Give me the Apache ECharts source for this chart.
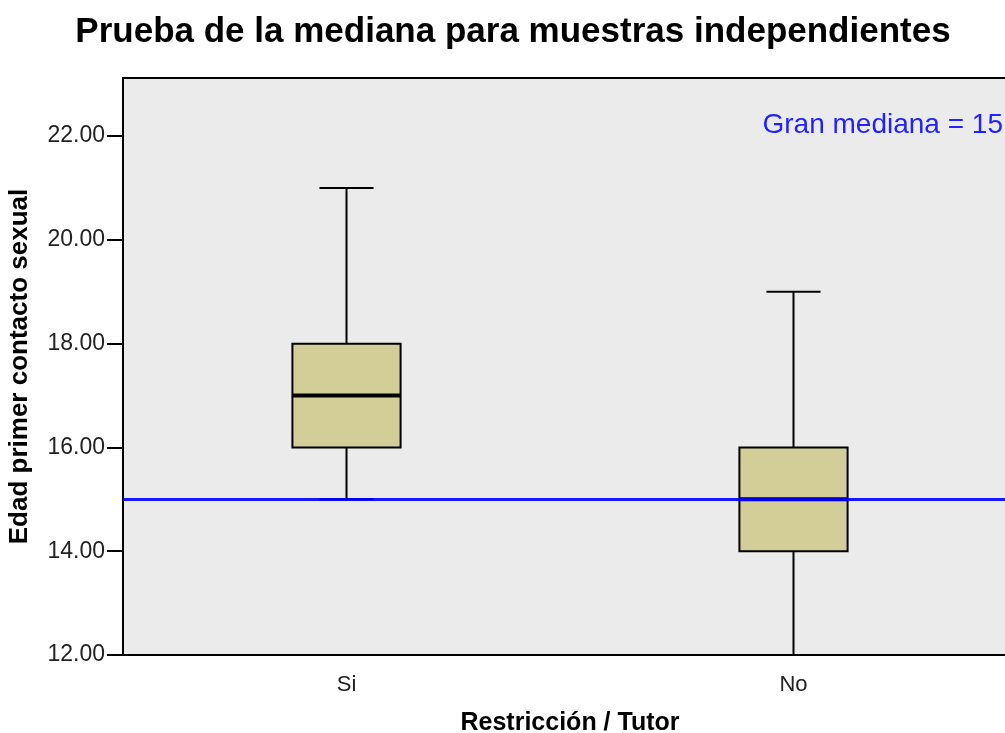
<!DOCTYPE html>
<html>
<head>
<meta charset="utf-8">
<script src="https://cdn.jsdelivr.net/npm/echarts@6/dist/echarts.min.js"></script>
<style>
  html, body { margin: 0; padding: 0; background: #fff; }
  #chart { width: 1005px; height: 733px; }
</style>
</head>
<body>
<div id="chart"></div>
<script>
// grupos y estadísticos de la caja
var categories = ['Si', 'No'];
var mins = [15, 12];
var q1s = [16, 14];
var medians = [17, 15];
var q3s = [18, 16];
var maxs = [21, 19];
var granMediana = 15;
var yTicks = [12, 14, 16, 18, 20, 22];

var boxData = categories.map(function (c, i) {
  return [i, mins[i], q1s[i], medians[i], q3s[i], maxs[i]];
});

// dibuja cada caja con las escalas del eje
function renderBox(params, api) {
  var x = api.value(0);
  var lo = api.coord([x, api.value(1)]);
  var q1 = api.coord([x, api.value(2)]);
  var med = api.coord([x, api.value(3)]);
  var q3 = api.coord([x, api.value(4)]);
  var hi = api.coord([x, api.value(5)]);
  var band = api.size([1, 0])[0];
  var hw = band * 0.121;   // media anchura de la caja
  var cw = hw / 2;         // media anchura del remate
  var cx = lo[0];
  var stroke = { stroke: '#000', lineWidth: 2 };
  return {
    type: 'group',
    children: [
      { type: 'line', shape: { x1: cx, y1: lo[1], x2: cx, y2: q1[1] }, style: stroke },
      { type: 'line', shape: { x1: cx, y1: q3[1], x2: cx, y2: hi[1] }, style: stroke },
      { type: 'line', shape: { x1: cx - cw, y1: lo[1], x2: cx + cw, y2: lo[1] }, style: stroke },
      { type: 'line', shape: { x1: cx - cw, y1: hi[1], x2: cx + cw, y2: hi[1] }, style: stroke },
      {
        type: 'rect',
        shape: { x: cx - hw, y: q3[1], width: hw * 2, height: q1[1] - q3[1] },
        style: { fill: '#d3ce98', stroke: '#000', lineWidth: 2 }
      },
      { type: 'line', shape: { x1: cx - hw, y1: med[1], x2: cx + hw, y2: med[1] }, style: { stroke: '#000', lineWidth: 4 } }
    ]
  };
}

var chart = echarts.init(document.getElementById('chart'));
chart.setOption({
  animation: false,
  title: {
    text: 'Prueba de la mediana para muestras independientes',
    left: 508,
    textAlign: 'center',
    top: 10,
    textStyle: { fontFamily: 'Liberation Sans', fontSize: 35, fontWeight: 'bold', color: '#000' }
  },
  grid: {
    left: 123,
    right: -12,
    top: 78,
    bottom: 78,
    outerBoundsMode: 'none',
    show: true,
    backgroundColor: '#ebebeb',
    borderColor: '#000',
    borderWidth: 2
  },
  xAxis: {
    type: 'category',
    data: categories,
    boundaryGap: true,
    name: 'Restricción / Tutor',
    nameLocation: 'middle',
    nameGap: 56,
    nameTextStyle: { fontFamily: 'Liberation Sans', fontSize: 25, fontWeight: 'bold', color: '#000' },
    axisLine: { lineStyle: { color: '#000', width: 2 } },
    axisTick: { alignWithLabel: true, length: 9, lineStyle: { color: '#000', width: 2 } },
    axisLabel: { fontFamily: 'Liberation Sans', fontSize: 22, color: '#222', margin: 19 },
    splitLine: { show: false }
  },
  yAxis: {
    type: 'value',
    min: 12,
    max: 23.12,
    interval: 2,
    name: 'Edad primer contacto sexual',
    nameLocation: 'middle',
    nameGap: 90,
    nameTextStyle: { fontFamily: 'Liberation Sans', fontSize: 26, fontWeight: 'bold', color: '#000' },
    axisLine: { show: true, lineStyle: { color: '#000', width: 2 } },
    axisTick: { show: true, length: 16, customValues: yTicks, lineStyle: { color: '#000', width: 2 } },
    axisLabel: {
      customValues: yTicks,
      fontFamily: 'Liberation Sans',
      fontSize: 23,
      color: '#222',
      margin: 18,
      formatter: function (v) { return v.toFixed(2); }
    },
    splitLine: { show: false }
  },
  graphic: [{
    type: 'text',
    right: 2,
    top: 111,
    style: {
      text: 'Gran mediana = ' + granMediana,
      fontFamily: 'Liberation Sans',
      fontSize: 28,
      fill: '#2222ff'
    }
  }],
  series: [{
    type: 'custom',
    renderItem: renderBox,
    encode: { x: 0, y: [1, 2, 3, 4, 5] },
    data: boxData,
    z: 2,
    markLine: {
      silent: true,
      symbol: 'none',
      label: { show: false },
      lineStyle: { color: '#0000ff', width: 3, type: 'solid', opacity: 0.9 },
      data: [{ yAxis: granMediana }],
      z: 5
    }
  }]
});
</script>
</body>
</html>
